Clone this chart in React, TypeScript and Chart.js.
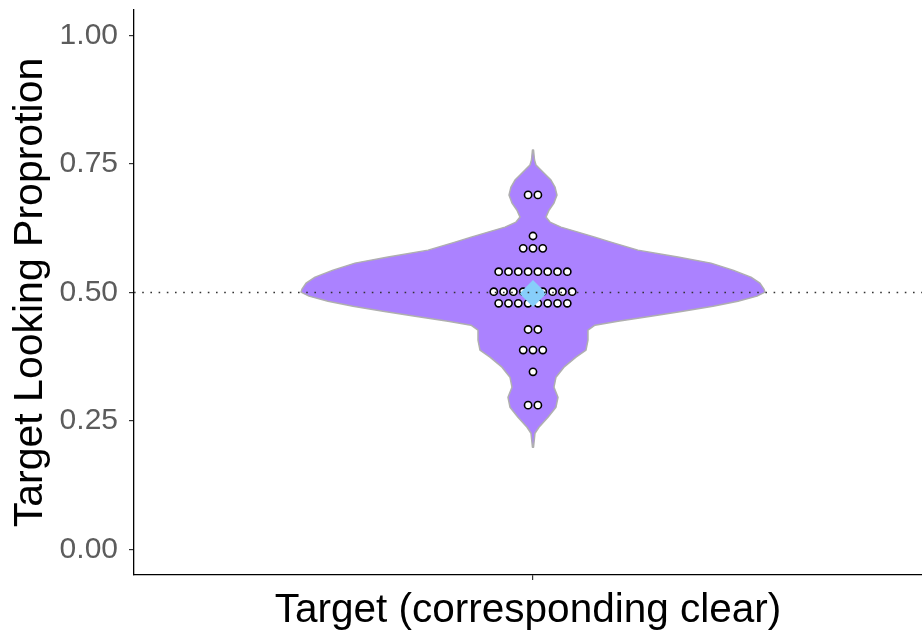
import React, { useEffect, useRef } from 'react';
import { Chart, registerables } from 'chart.js';

Chart.register(...registerables);

// ---- data ----
const categoryLabel = 'Target (corresponding clear)';
const yAxisTitle = 'Target Looking Proprotion';
const yTickValues = [0, 0.25, 0.5, 0.75, 1];
const referenceLine = [0.5];
const meanValue = [0.498];

// individual participant values (dot plot)
const dotValues = [
  0.69, 0.69,
  0.61,
  0.586, 0.586, 0.586,
  0.5405, 0.5405, 0.5405, 0.5405, 0.5405, 0.5405, 0.5405, 0.5405,
  0.5016, 0.5016, 0.5016, 0.5016, 0.5016, 0.5016, 0.5016, 0.5016, 0.5016,
  0.479, 0.479, 0.479, 0.479, 0.479, 0.479, 0.479, 0.479,
  0.428, 0.428,
  0.388, 0.388, 0.388,
  0.3456,
  0.2807, 0.2807,
];

// violin outline: y value and density half-width (x data units)
const violinY = [
  0.7773, 0.7578, 0.7481, 0.7384, 0.7286, 0.7189, 0.7053, 0.6897, 0.6741, 0.6601,
  0.6468, 0.6371, 0.6273, 0.6176, 0.6078, 0.5981, 0.5825, 0.5689, 0.5572, 0.5435,
  0.5299, 0.5182, 0.5065, 0.5007, 0.4929, 0.4831, 0.4734, 0.4637, 0.4539, 0.4442,
  0.4364, 0.4267, 0.4072, 0.3877, 0.3741, 0.3546, 0.3351, 0.3156, 0.2961, 0.2767,
  0.2572, 0.2377, 0.226, 0.1987,
];
const violinHalfWidth = [
  0.0008, 0.0023, 0.0045, 0.012, 0.0195, 0.0271, 0.0331, 0.0361, 0.0316, 0.0241,
  0.0195, 0.0256, 0.0421, 0.0677, 0.0932, 0.1173, 0.1579, 0.218, 0.2677, 0.3008,
  0.3278, 0.3413, 0.3474, 0.3489, 0.3368, 0.3083, 0.2707, 0.2256, 0.1774, 0.1278,
  0.0932, 0.0827, 0.0827, 0.0797, 0.0647, 0.0466, 0.0346, 0.0316, 0.0376, 0.0346,
  0.0226, 0.009, 0.003, 0.0008,
];

const X_MIN = -0.6;
const X_MAX = 0.585;
const DOT_STEP = 0.01474;
const FONT = '"Liberation Sans", Arial, sans-serif';

function zeroPadding(s: any) {
  s.paddingTop = 0;
  s.paddingBottom = 0;
  s.paddingLeft = 0;
  s.paddingRight = 0;
}

export default function App() {
  const ref = useRef<HTMLCanvasElement>(null);

  useEffect(() => {
    const canvas = ref.current;
    if (!canvas) return;

    const counts = new Map<number, number>();
    dotValues.forEach((v) => counts.set(v, (counts.get(v) || 0) + 1));
    const dotPoints: { x: number; y: number }[] = [];
    counts.forEach((n, v) => {
      for (let i = 0; i < n; i++) dotPoints.push({ x: (i - (n - 1) / 2) * DOT_STEP, y: v });
    });

    const violinPlugin = {
      id: 'violin',
      beforeDatasetsDraw(chart: any) {
        const { ctx, scales } = chart;
        const xs = scales.x;
        const ys = scales.y;
        ctx.save();
        ctx.beginPath();
        violinY.forEach((v, i) => {
          const px = xs.getPixelForValue(-violinHalfWidth[i]);
          const py = ys.getPixelForValue(v);
          if (i === 0) ctx.moveTo(px, py);
          else ctx.lineTo(px, py);
        });
        for (let i = violinY.length - 1; i >= 0; i--) {
          ctx.lineTo(xs.getPixelForValue(violinHalfWidth[i]), ys.getPixelForValue(violinY[i]));
        }
        ctx.closePath();
        ctx.fillStyle = '#AB82FF';
        ctx.fill();
        ctx.strokeStyle = '#AFAFAF';
        ctx.lineWidth = 1.5;
        ctx.lineJoin = 'round';
        ctx.stroke();
        ctx.restore();
      },
    };

    const chart = new Chart(canvas, {
      type: 'scatter',
      data: {
        datasets: [
          {
            type: 'line',
            data: [
              { x: X_MIN, y: referenceLine[0] },
              { x: X_MAX, y: referenceLine[0] },
            ],
            borderColor: '#333333',
            borderWidth: 1.6,
            borderDash: [1.6, 6.6],
            pointRadius: 0,
            fill: false,
            order: 0,
          } as any,
          {
            data: meanValue.map((m) => ({ x: 0, y: m })),
            pointStyle: 'rectRot',
            pointRadius: 13.5,
            backgroundColor: '#87CEFA',
            borderColor: '#87CEFA',
            borderWidth: 0,
            order: 1,
          },
          {
            data: dotPoints,
            pointStyle: 'circle',
            pointRadius: 3.6,
            backgroundColor: '#ffffff',
            borderColor: '#000000',
            borderWidth: 1.6,
            order: 2,
          },
        ],
      },
      options: {
        responsive: false,
        animation: false,
        layout: { autoPadding: false, padding: { top: 10, right: 0, bottom: 2, left: 0 } },
        plugins: { legend: { display: false }, tooltip: { enabled: false } },
        scales: {
          x: {
            type: 'linear',
            min: X_MIN,
            max: X_MAX,
            afterBuildTicks: (s: any) => {
              s.ticks = [{ value: 0 }];
            },
            afterFit: (s: any) => {
              s.height = 60;
              zeroPadding(s);
            },
            ticks: { callback: () => '', font: { size: 2 } },
            grid: { display: true, drawOnChartArea: false, drawTicks: true, tickLength: 5, color: '#333333', lineWidth: 1.2 },
            border: { display: true, color: '#000000', width: 1.3 },
            title: {
              display: true,
              text: categoryLabel,
              color: '#000000',
              font: { family: FONT, size: 40.5 },
              padding: { top: 0, bottom: 0 },
            },
          },
          y: {
            type: 'linear',
            min: -0.05,
            max: 1.05,
            afterBuildTicks: (s: any) => {
              s.ticks = yTickValues.map((v) => ({ value: v }));
            },
            afterFit: (s: any) => {
              s.width = 134;
              zeroPadding(s);
            },
            ticks: {
              callback: (v: any) => Number(v).toFixed(2),
              color: '#5c5c5c',
              font: { family: FONT, size: 30 },
              padding: 11,
            },
            grid: { display: true, drawOnChartArea: false, drawTicks: true, tickLength: 5, color: '#333333', lineWidth: 1.2 },
            border: { display: true, color: '#000000', width: 1.3 },
            title: {
              display: true,
              text: yAxisTitle,
              color: '#000000',
              font: { family: FONT, size: 41 },
              padding: { top: 6, bottom: 0 },
            },
          },
        },
      },
      plugins: [violinPlugin],
    });

    return () => chart.destroy();
  }, []);

  return (
    <div style={{ position: 'absolute', left: 0, top: 0, width: 922, height: 637, background: '#ffffff' }}>
      <canvas ref={ref} width={922} height={637} style={{ width: 922, height: 637, display: 'block' }} />
    </div>
  );
}
